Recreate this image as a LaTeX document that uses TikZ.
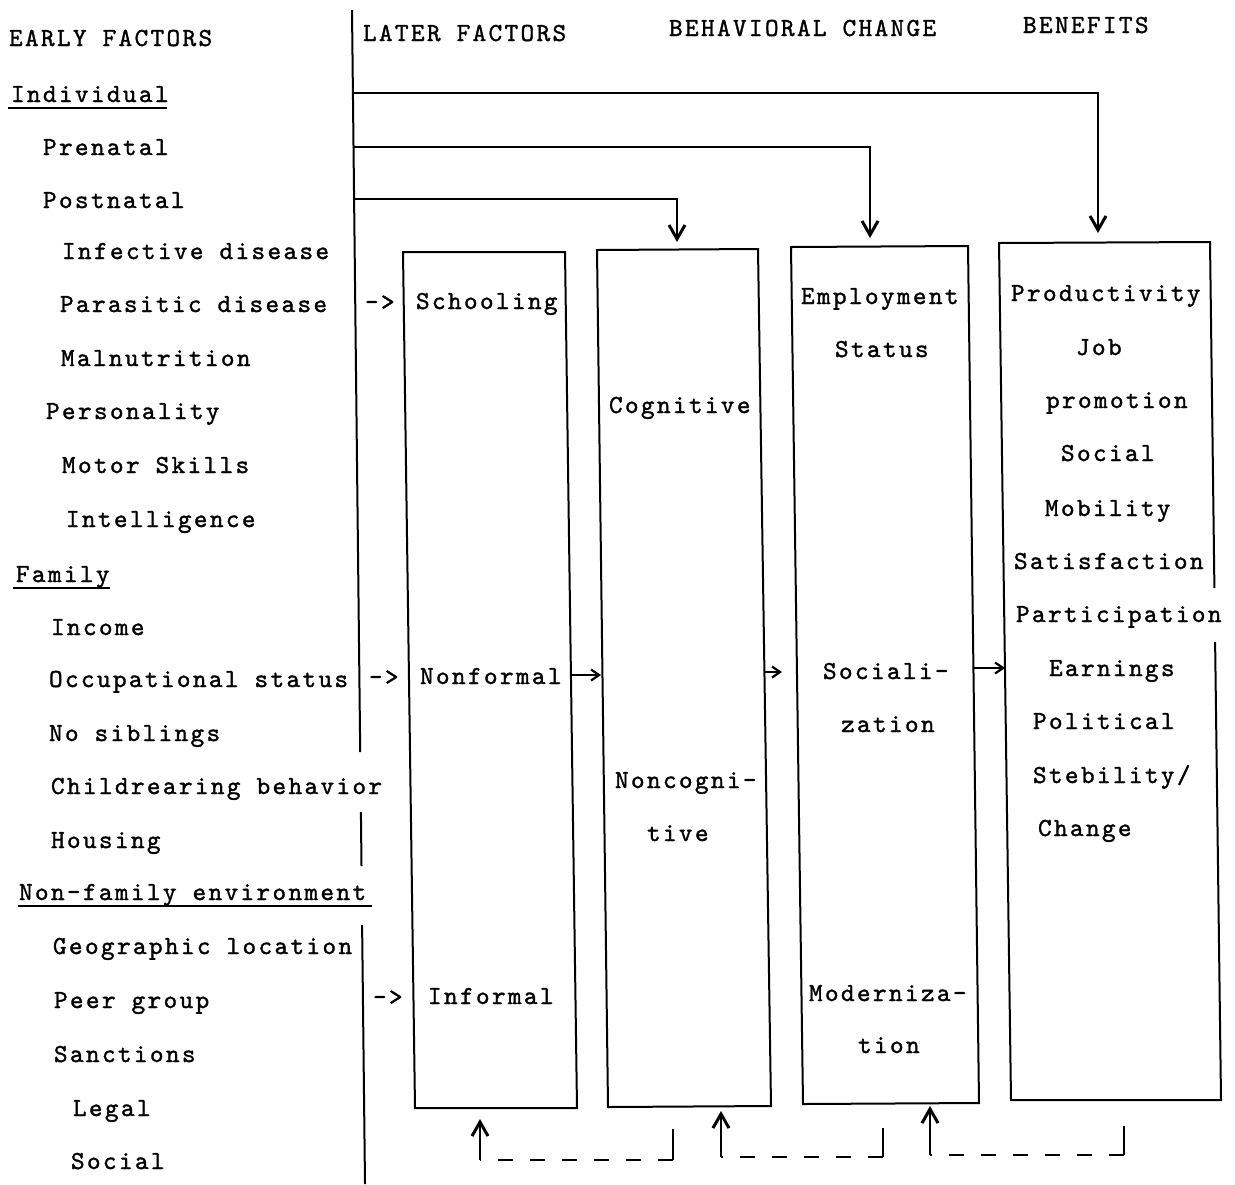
\documentclass[tikz,border=0pt]{standalone}
\usepackage{fontspec}
\newfontfamily\tw{lmmono10-regular}[Extension=.otf,LetterSpace=9,FakeBold=1.3]
\usetikzlibrary{arrows.meta}
\begin{document}
\begin{tikzpicture}[x=0.5pt,y=-0.5pt,line width=1pt,
  lbl/.style={anchor=base west,inner sep=0pt,font={\tw\fontsize{13pt}{15pt}\selectfont}},
  vhead/.style={-{Straight Barb[length=7pt,width=8pt,line width=1.5pt]}},
  shead/.style={-{Straight Barb[length=4pt,width=5.5pt,line width=1.1pt]}},
  fdash/.style={dash pattern=on 7.5pt off 8.5pt}]
\useasboundingbox (0,0) rectangle (1235,1184);

% headers
\node[lbl] (hEarly) at (8,46) {EARLY FACTORS};
\node[lbl] (hLater) at (362,41) {LATER FACTORS};
\node[lbl] (hBeh) at (668,36) {BEHAVIORAL CHANGE};
\node[lbl] (hBen) at (1022,33) {BENEFITS};

% left column
\node[lbl] (tInd) at (10,102) {Individual};
\node[lbl] (tPre) at (42,155) {Prenatal};
\node[lbl] (tPost) at (42,208) {Postnatal};
\node[lbl] (tInf) at (61,259) {Infective disease};
\node[lbl] (tPar) at (59,312) {Parasitic disease};
\node[lbl] (tMal) at (60,366) {Malnutrition};
\node[lbl] (tPers) at (45,419) {Personality};
\node[lbl] (tMot) at (61,473) {Motor Skills};
\node[lbl] (tInt) at (65,527) {Intelligence};
\node[lbl] (tFam) at (15,582) {Family};
\node[lbl] (tInc) at (50,635) {Income};
\node[lbl] (tOcc) at (48,687) {Occupational status};
\node[lbl] (tSib) at (48,741) {No siblings};
\node[lbl] (tChild) at (50,794) {Childrearing behavior};
\node[lbl] (tHous) at (50,848) {Housing};
\node[lbl] (tNon) at (18,900) {Non-family environment};
\node[lbl] (tGeo) at (52,954) {Geographic location};
\node[lbl] (tPeer) at (53,1008) {Peer group};
\node[lbl] (tSanc) at (53,1062) {Sanctions};
\node[lbl] (tLeg) at (72,1116) {Legal};
\node[lbl] (tSoc) at (70,1169) {Social};

% underlines
\coordinate (u1a) at (8,108); \coordinate (u1b) at (167,108);
\coordinate (u2a) at (13,588); \coordinate (u2b) at (110,588);
\coordinate (u3a) at (18,906); \coordinate (u3b) at (372,906);
\draw (u1a) -- (u1b);
\draw (u2a) -- (u2b);
\draw (u3a) -- (u3b);

% divider
\coordinate (dv0) at (352,10);
\coordinate (dv1) at (360.2,752);
\coordinate (dv2) at (360.9,812);
\coordinate (dv3) at (361.5,866);
\coordinate (dv4) at (362.1,925);
\coordinate (dv5) at (365,1184);
\draw (dv0) -- (dv1);
\draw (dv2) -- (dv3);
\draw (dv4) -- (dv5);

% boxes
\coordinate (b1a) at (403,252); \coordinate (b1b) at (565,252);
\coordinate (b1c) at (577,1108); \coordinate (b1d) at (415,1108);
\coordinate (b2a) at (597,250); \coordinate (b2b) at (758,249);
\coordinate (b2c) at (771,1106); \coordinate (b2d) at (608,1107);
\coordinate (b3a) at (791,247); \coordinate (b3b) at (968,246);
\coordinate (b3c) at (979,1103); \coordinate (b3d) at (803,1104);
\coordinate (b4a) at (999,243); \coordinate (b4b) at (1210,242);
\coordinate (b4c) at (1221,1100); \coordinate (b4d) at (1011,1100);
\coordinate (b4g1) at (1214.4,588); \coordinate (b4g2) at (1215.1,642);
\draw (b1a) -- (b1b) -- (b1c) -- (b1d) -- cycle;
\draw (b2a) -- (b2b) -- (b2c) -- (b2d) -- cycle;
\draw (b3a) -- (b3b) -- (b3c) -- (b3d) -- cycle;
\draw (b4g1) -- (b4b) -- (b4a) -- (b4d) -- (b4c) -- (b4g2);

% box texts
\node[lbl] (xSch) at (415,309) {Schooling};
\node[lbl] (xNonf) at (419,684) {Nonformal};
\node[lbl] (xInf) at (427,1004) {Informal};
\node[lbl] (xCog) at (608,413) {Cognitive};
\node[lbl] (xNc1) at (614,788) {Noncogni-};
\node[lbl] (xNc2) at (646,841) {tive};
\node[lbl] (xEmp) at (800,304) {Employment};
\node[lbl] (xSta) at (834,357) {Status};
\node[lbl] (xSo1) at (822,679) {Sociali-};
\node[lbl] (xSo2) at (840,732) {zation};
\node[lbl] (xMo1) at (808,1001) {Moderniza-};
\node[lbl] (xMo2) at (857,1053) {tion};
\node[lbl] (yProd) at (1010,301) {Productivity};
\node[lbl] (yJob) at (1075,355) {Job};
\node[lbl] (yProm) at (1045,408) {promotion};
\node[lbl] (ySoc) at (1060,461) {Social};
\node[lbl] (yMob) at (1044,516) {Mobility};
\node[lbl] (ySat) at (1013,569) {Satisfaction};
\node[lbl] (yPart) at (1015,622) {Participation};
\node[lbl] (yEarn) at (1048,676) {Earnings};
\node[lbl] (yPol) at (1032,729) {Political};
\node[lbl] (ySte) at (1032,783) {Stebility/};
\node[lbl] (yCha) at (1037,836) {Change};

% typed arrows into first box
\node[lbl] (ar1) at (364,310) {->};
\node[lbl] (ar2) at (368,685) {->};
\node[lbl] (ar3) at (372,1005) {->};

% top feedback connectors
\coordinate (d1) at (353,93);  \coordinate (t1) at (1098,233);
\coordinate (d2) at (353,147); \coordinate (t2) at (870,238);
\coordinate (d3) at (354,199); \coordinate (t3) at (677,242);
\draw[vhead] (d1) -| (t1);
\draw[vhead] (d2) -| (t2);
\draw[vhead] (d3) -| (t3);

% arrows between boxes
\coordinate (m1a) at (571,675); \coordinate (m1b) at (601,675);
\coordinate (m2a) at (765,672); \coordinate (m2b) at (782,672);
\coordinate (m3a) at (974,668); \coordinate (m3b) at (1005,668);
\draw[shead] (m1a) -- (m1b);
\draw[shead] (m2a) -- (m2b);
\draw[shead] (m3a) -- (m3b);

% bottom dashed feedback
\coordinate (r1) at (673,1129); \coordinate (c1) at (673,1160);
\coordinate (l1) at (480,1160); \coordinate (p1) at (480,1119);
\coordinate (r2) at (883,1128); \coordinate (c2) at (883,1157);
\coordinate (l2) at (721,1157); \coordinate (p2) at (721,1111);
\coordinate (r3) at (1124,1126); \coordinate (c3) at (1124,1155);
\coordinate (l3) at (930,1155); \coordinate (p3) at (930,1106);
\draw (r1) -- (c1); \draw[fdash] (c1) -- (l1); \draw[vhead] (l1) -- (p1);
\draw (r2) -- (c2); \draw[fdash] (c2) -- (l2); \draw[vhead] (l2) -- (p2);
\draw (r3) -- (c3); \draw[fdash] (c3) -- (l3); \draw[vhead] (l3) -- (p3);
\end{tikzpicture}
\end{document}
